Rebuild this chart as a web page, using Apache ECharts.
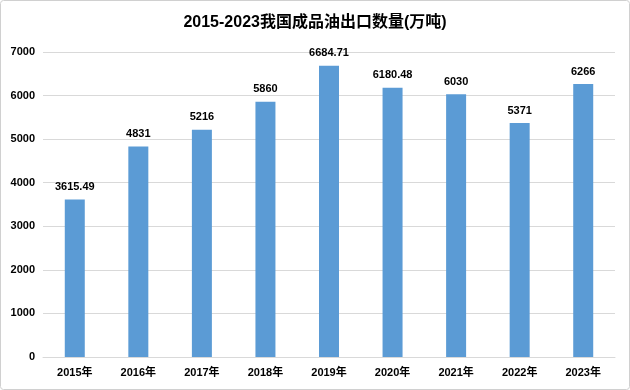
<!DOCTYPE html>
<html><head><meta charset="utf-8">
<script src="https://cdn.jsdelivr.net/npm/echarts@6/dist/echarts.min.js"></script>
<style>html,body{margin:0;padding:0;background:#fff}#c{width:630px;height:390px}</style>
</head><body><div id="c"></div>
<script>
const categories = ['2015年','2016年','2017年','2018年','2019年','2020年','2021年','2022年','2023年'];
const values = [3615.49, 4831, 5216, 5860, 6684.71, 6180.48, 6030, 5371, 6266];
const labels = ['3615.49','4831','5216','5860','6684.71','6180.48','6030','5371','6266'];
const titleText = '2015-2023我国成品油出口数量(万吨)';
const font = '"Liberation Sans", "Noto Sans CJK SC", sans-serif';
const chart = echarts.init(document.getElementById('c'), null, {renderer:'canvas'});
chart.setOption({
  backgroundColor:'#fff',
  animation:false,
  graphic:[{type:'rect',shape:{x:0.5,y:0.5,width:629,height:389,r:3},style:{fill:'none',stroke:'#d0d0d0',lineWidth:1}}],
  title:{text:titleText,left:'center',top:10,textStyle:{fontFamily:font,fontSize:16,fontWeight:'bold',color:'#000'}},
  grid:{left:43,right:15,top:52,bottom:33},
  xAxis:{type:'category',data:categories,
    axisLine:{show:true,lineStyle:{color:'#d9d9d9'}},axisTick:{show:false},
    axisLabel:{color:'#000',fontFamily:font,fontSize:11,fontWeight:'bold',margin:10}},
  yAxis:{type:'value',min:0,max:7000,interval:1000,
    axisLine:{show:false},axisTick:{show:false},
    splitLine:{lineStyle:{color:'#d9d9d9'}},
    axisLabel:{color:'#000',fontFamily:font,fontSize:11,fontWeight:'bold',margin:8,formatter:v=>String(v)}},
  series:[{type:'bar',data:values,barWidth:20,itemStyle:{color:'#5B9BD5'},
    label:{show:true,position:'top',distance:7,color:'#000',fontFamily:font,fontSize:11,fontWeight:'bold',
      formatter:p=>labels[p.dataIndex]}}]
});
</script></body></html>
